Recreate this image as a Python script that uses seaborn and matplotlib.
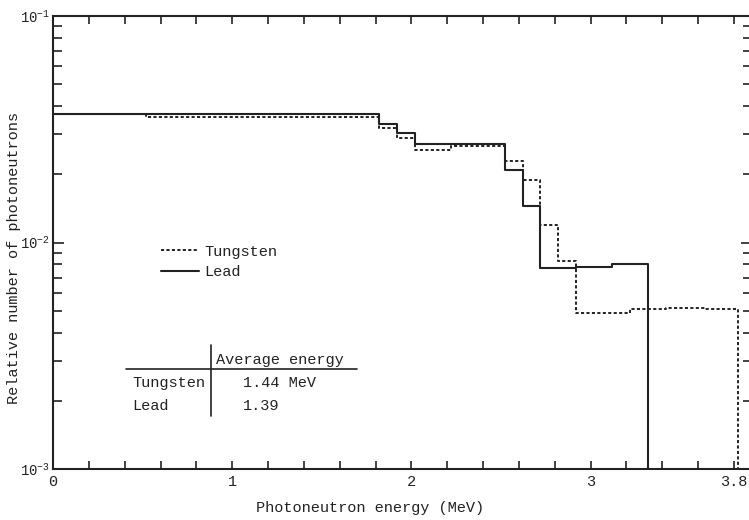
import numpy as np
import pandas as pd
import matplotlib
matplotlib.use("Agg")
import matplotlib.pyplot as plt
from matplotlib.lines import Line2D
import seaborn as sns

# ---- data ----
lead_edges = [0.0, 1.82, 1.92, 2.02, 2.52, 2.62, 2.72, 2.92, 3.12, 3.32]
lead_values = [0.0370, 0.0333, 0.0305, 0.0272, 0.0210, 0.01453, 0.00770, 0.00783, 0.00807]

tungsten_edges = [0.0, 0.52, 1.82, 1.92, 2.02, 2.22, 2.52, 2.62, 2.72, 2.82, 2.92,
                  3.22, 3.42, 3.64, 3.82]
tungsten_values = [0.0370, 0.0357, 0.0321, 0.0289, 0.0257, 0.0266, 0.0228, 0.0189,
                   0.0119, 0.0083, 0.0049, 0.00507, 0.00516, 0.00511]

baseline = 1e-3          # bottom of the y axis, where the histograms drop to
x_major = [0, 1, 2, 3, 3.8]
x_major_labels = ["0", "1", "2", "3", "3.8"]
series_names = ["Tungsten", "Lead"]
table_rows = ["Tungsten", "Lead"]
table_values = ["1.44 MeV", "1.39"]
table_header = "Average energy"

# ---- style ----
sns.set_style("ticks")
mono = ["Liberation Mono", "DejaVu Sans Mono"]
plt.rcParams["font.family"] = mono
plt.rcParams["mathtext.default"] = "regular"
INK = "#222222"
FS = 11

W, H = 749, 520
fig = plt.figure(figsize=(W / 100, H / 100), dpi=100)
L, R, T, B = 53, 752, 16, 469
ax = fig.add_axes([L / W, 1 - B / H, (R - L) / W, (B - T) / H])


def step_frame(edges, values):
    xs = list(edges) + [edges[-1]]
    ys = list(values) + [values[-1], baseline]
    return pd.DataFrame({"energy": xs, "n": ys})


dfL = step_frame(lead_edges, lead_values)
dfW = step_frame(tungsten_edges, tungsten_values)

sns.lineplot(data=dfL, x="energy", y="n", ax=ax, sort=False, estimator=None,
             drawstyle="steps-post", color=INK, linewidth=1.5)
sns.lineplot(data=dfW, x="energy", y="n", ax=ax, sort=False, estimator=None,
             drawstyle="steps-post", color=INK, linewidth=1.4)
ax.lines[1].set_linestyle((0, (1.6, 1.2)))

ax.set_yscale("log")
ax.set_xlim(0, (R - L) / 179.2)
ax.set_ylim(1e-3, 1e-1)

ax.set_xticks(x_major)
ax.set_xticklabels(x_major_labels)
ax.set_xticks(np.arange(0, 3.9, 0.2), minor=True)
ax.set_yticks([1e-3, 1e-2, 1e-1])
ax.set_yticklabels([r"$10^{-3}$", r"$10^{-2}$", r"$10^{-1}$"])

ax.tick_params(axis="x", which="both", direction="in", top=True, length=5.5,
               width=1.2, color=INK, labelsize=FS, labelcolor=INK, pad=4)
ax.tick_params(axis="y", which="major", direction="in", right=True, length=8,
               width=1.2, color=INK, labelsize=10, labelcolor=INK, pad=2)
ax.tick_params(axis="y", which="minor", direction="in", right=True, length=6.5,
               width=1.2, color=INK)
for s in ax.spines.values():
    s.set_color(INK)
    s.set_linewidth(1.5)

ax.set_xlabel("Photoneutron energy (MeV)", fontsize=FS, color=INK)
ax.set_ylabel("Relative number of photoneutrons", fontsize=FS, color=INK)
ax.xaxis.set_label_coords((370 - L) / (R - L), (B - 508) / (B - T))
ax.xaxis.label.set_va("center")
ax.yaxis.set_label_coords((14 - L) / (R - L), (B - 258) / (B - T))
ax.yaxis.label.set_va("center")

# legend
handles = [Line2D([], [], color=INK, lw=1.4, ls=(0, (1.6, 1.2))),
           Line2D([], [], color=INK, lw=1.5)]
ax.legend(handles, series_names, loc="center left", frameon=False,
          bbox_to_anchor=(161 / W, 1 - 262 / H), bbox_transform=fig.transFigure,
          borderpad=0, borderaxespad=0, handlelength=2.5, handletextpad=0.35,
          labelspacing=0.45, prop={"family": mono, "size": FS}, labelcolor=INK)

# average energy table
fig.add_artist(Line2D([126 / W, 357 / W], [1 - 369 / H] * 2, color=INK, lw=1.2,
                      transform=fig.transFigure))
fig.add_artist(Line2D([210.5 / W] * 2, [1 - 345 / H, 1 - 416 / H], color=INK, lw=1.2,
                      transform=fig.transFigure))
fig.text(216 / W, 1 - 360 / H, table_header, fontsize=FS, color=INK, va="center")
for i, (r, v) in enumerate(zip(table_rows, table_values)):
    y = 383 + 22.7 * i
    fig.text(132 / W, 1 - y / H, r, fontsize=FS, color=INK, va="center")
    fig.text(243 / W, 1 - y / H, v, fontsize=FS, color=INK, va="center")

fig.savefig("out.png", dpi=100)
